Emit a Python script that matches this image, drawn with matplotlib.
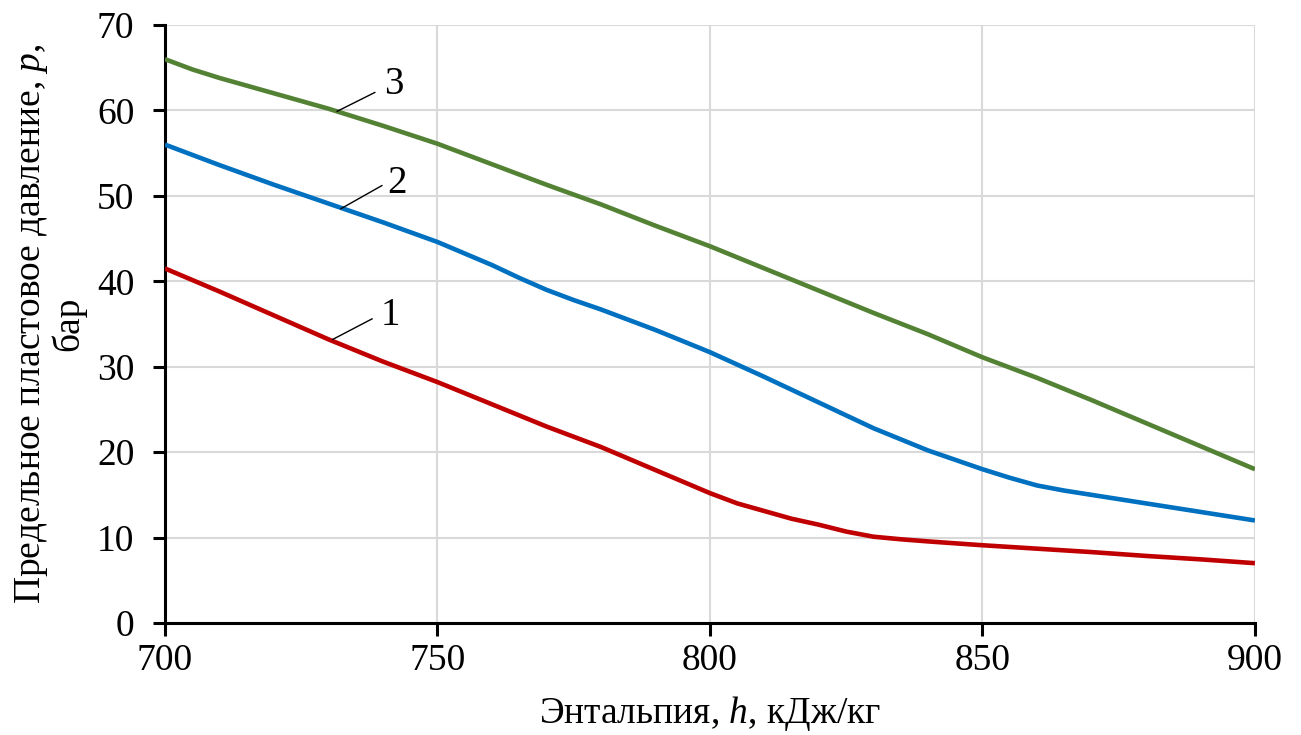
import numpy as np
import matplotlib
matplotlib.use("Agg")
import matplotlib.pyplot as plt

plt.rcParams['font.family'] = ['Liberation Serif', 'DejaVu Serif']
plt.rcParams['mathtext.fontset'] = 'custom'
plt.rcParams['mathtext.it'] = 'Liberation Serif:italic'
plt.rcParams['mathtext.rm'] = 'Liberation Serif'

# curve 1: enthalpy, kJ/kg and limiting reservoir pressure, bar
h1 = [700, 710, 720, 730, 740, 750, 760, 770, 780, 790, 800, 805,
      810, 815, 820, 825, 830, 835, 840, 850, 860, 870, 880, 890, 900]
p1 = [41.5, 38.8, 36.0, 33.2, 30.6, 28.2, 25.6, 23.0, 20.6, 17.9, 15.2, 14.0,
      13.1, 12.2, 11.5, 10.7, 10.1, 9.8, 9.55, 9.1, 8.7, 8.3, 7.85, 7.45, 7.0]
# curve 2
h2 = [700, 705, 710, 720, 730, 740, 750, 760, 765, 770, 775, 780, 790, 800,
      810, 820, 830, 840, 845, 850, 855, 860, 865, 870, 880, 890, 900]
p2 = [56.0, 54.8, 53.6, 51.3, 49.1, 46.9, 44.6, 41.9, 40.4, 39.0, 37.8, 36.7, 34.3, 31.7,
      28.8, 25.8, 22.8, 20.2, 19.1, 18.0, 17.0, 16.1, 15.5, 15.0, 14.0, 13.0, 12.0]
# curve 3
h3 = [700, 705, 710, 720, 730, 740, 750, 760, 770, 780, 790, 800,
      810, 820, 830, 840, 850, 860, 870, 880, 890, 900]
p3 = [66.0, 64.8, 63.8, 62.0, 60.2, 58.2, 56.1, 53.7, 51.3, 49.0, 46.5, 44.1,
      41.5, 38.9, 36.3, 33.8, 31.1, 28.7, 26.1, 23.4, 20.7, 18.0]

labels = ["1", "2", "3"]
colors = ["#C00000", "#0070C0", "#548235"]

fig = plt.figure(figsize=(13.01, 7.35), dpi=100)
ax = fig.add_axes([0.1268, 0.1524, 0.8378, 0.8136])

for h, p, c in zip([h1, h2, h3], [p1, p2, p3], colors):
    ax.plot(h, p, color=c, lw=3.3, solid_joinstyle='round', solid_capstyle='butt', zorder=3)

# curve labels with leader lines
lead = {"1": ((730.8, 33.2), (738.0, 35.6), (739.6, 36.0)),
        "2": ((732.3, 48.5), (739.8, 51.2), (740.8, 51.5)),
        "3": ((731.6, 59.9), (738.5, 62.1), (740.2, 63.0))}
for lab in labels:
    a, b, t = lead[lab]
    ax.plot([a[0], b[0]], [a[1], b[1]], color='black', lw=1.0, zorder=4)
    ax.text(t[0], t[1], lab, fontsize=28, ha='left', va='center')

ax.set_xlim(700, 900)
ax.set_ylim(0, 70)
ax.set_xticks(np.arange(700, 901, 50))
ax.set_yticks(np.arange(0, 71, 10))
ax.grid(True, color='#D9D9D9', lw=1.5)
ax.set_axisbelow(True)
for s in ['top', 'right']:
    ax.spines[s].set_visible(False)
for s in ['left', 'bottom']:
    ax.spines[s].set_linewidth(2.2)
ax.tick_params(axis='both', direction='out', length=9, width=2.2, labelsize=27)
ax.tick_params(axis='x', pad=6)
ax.tick_params(axis='y', pad=13)

ax.set_xlabel("Энтальпия, $h$, кДж/кг", fontsize=27, labelpad=11)
ax.set_ylabel("Предельное пластовое давление, $p$,\nбар", fontsize=27, labelpad=8,
              linespacing=1.0)

fig.savefig("out.png", dpi=100)
